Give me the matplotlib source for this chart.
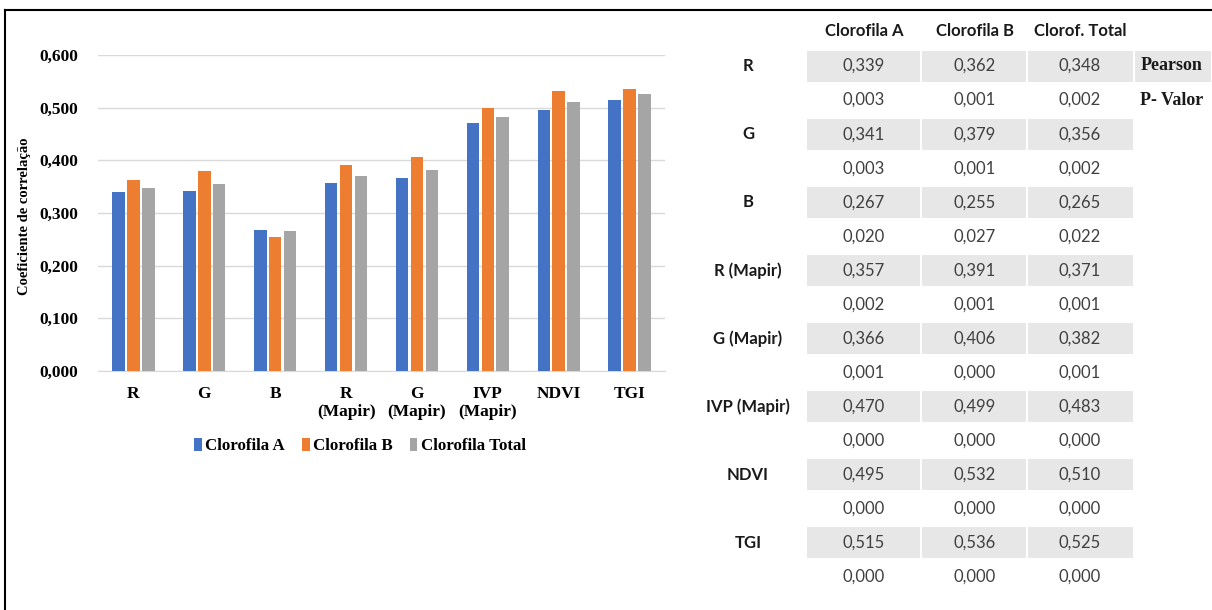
import matplotlib
matplotlib.use("Agg")
import matplotlib.pyplot as plt
import numpy as np
from matplotlib.patches import Rectangle

# Indices and correlation data
categories = ["R", "G", "B", "R\n(Mapir)", "G\n(Mapir)", "IVP\n(Mapir)", "NDVI", "TGI"]
row_labels = ["R", "G", "B", "R (Mapir)", "G (Mapir)", "IVP (Mapir)", "NDVI", "TGI"]
series_names = ["Clorofila A", "Clorofila B", "Clorofila Total"]
table_headers = ["Clorofila A", "Clorofila B", "Clorof. Total"]
pearson_a = [0.339, 0.341, 0.267, 0.357, 0.366, 0.470, 0.495, 0.515]
pearson_b = [0.362, 0.379, 0.255, 0.391, 0.406, 0.499, 0.532, 0.536]
pearson_t = [0.348, 0.356, 0.265, 0.371, 0.382, 0.483, 0.510, 0.525]
pval_a = [0.003, 0.003, 0.020, 0.002, 0.001, 0.000, 0.000, 0.000]
pval_b = [0.001, 0.001, 0.027, 0.001, 0.000, 0.000, 0.000, 0.000]
pval_t = [0.002, 0.002, 0.022, 0.001, 0.001, 0.000, 0.000, 0.000]
y_ticks = [0.0, 0.1, 0.2, 0.3, 0.4, 0.5, 0.6]

COLORS = ["#4472C4", "#ED7D31", "#A5A5A5"]
SERIF = "Liberation Serif"
SANS = "Lato"


def fmt(v):
    return f"{v:.3f}".replace(".", ",")


W, H = 1212, 610
fig = plt.figure(figsize=(W / 100, H / 100), dpi=100)

# Background canvas in pixel units for frame and table
bg = fig.add_axes([0, 0, 1, 1])
bg.set_xlim(0, W)
bg.set_ylim(H, 0)
bg.axis("off")
bg.plot([5, W], [10, 10], color="black", lw=1.5)
bg.plot([5, 5], [10, H], color="black", lw=1.5)

# Bar chart
ax = fig.add_axes([98 / W, 1 - 371 / H, 567 / W, 316 / H])
x = np.arange(len(categories))
width = 0.175
step = 0.21
for i, (vals, name) in enumerate(zip([pearson_a, pearson_b, pearson_t], series_names)):
    ax.bar(x + (i - 1) * step, vals, width=width, color=COLORS[i], label=name, zorder=3)
ax.set_xlim(-0.5, len(categories) - 0.5)
ax.set_ylim(0, 0.6)
ax.set_yticks(y_ticks)
ax.set_yticklabels([fmt(t) for t in y_ticks], fontfamily=SERIF, fontweight="bold", fontsize=12.5)
ax.set_xticks(x)
ax.set_xticklabels(categories, fontfamily=SERIF, fontweight="bold", fontsize=12.5, linespacing=1.15)
ax.tick_params(length=0, pad=11)
ax.tick_params(axis="y", pad=14)
ax.grid(axis="y", color="#D9D9D9", lw=1, zorder=0)
for side in ["top", "right", "left"]:
    ax.spines[side].set_visible(False)
ax.spines["bottom"].set_color("#D9D9D9")
ax.set_ylabel("Coeficiente de correlação", fontfamily=SERIF, fontweight="bold", fontsize=10.5)
ax.yaxis.set_label_coords(-0.118, 0.49)
ax.legend(loc="center", bbox_to_anchor=(0.462, -0.237), ncol=3, frameon=False,
          prop={"family": SERIF, "weight": "bold", "size": 12.2},
          handlelength=0.45, handleheight=0.85, handletextpad=0.2, columnspacing=1.0)

# Correlation table
col_x = [864, 975, 1080]
col_left = [807, 922, 1028]
col_w = [113, 104, 105]
row0 = 66
dy = 34.07
cell_h = 31
for cx, head in zip(col_x, table_headers):
    bg.text(cx, 31, head, ha="center", va="center", fontfamily=SANS, fontweight="bold",
            fontsize=12, color="#1a1a1a")
for r, lab in enumerate(row_labels):
    yp = row0 + 2 * r * dy
    yv = yp + dy
    bg.text(748, yp, lab, ha="center", va="center", fontfamily=SANS, fontweight="bold",
            fontsize=12, color="#1a1a1a")
    for c, (pa, pv) in enumerate(zip([pearson_a, pearson_b, pearson_t], [pval_a, pval_b, pval_t])):
        bg.add_patch(Rectangle((col_left[c], yp - cell_h / 2), col_w[c], cell_h,
                               facecolor="#E7E7E7", edgecolor="none"))
        bg.text(col_x[c], yp, fmt(pa[r]), ha="center", va="center", fontfamily=SANS,
                fontsize=12, color="#404040")
        bg.text(col_x[c], yv, fmt(pv[r]), ha="center", va="center", fontfamily=SANS,
                fontsize=12, color="#404040")

bg.add_patch(Rectangle((1135, row0 - cell_h / 2), 76, cell_h, facecolor="#E7E7E7", edgecolor="none"))
bg.text(1172, row0, "Pearson", ha="center", va="center", fontfamily=SERIF, fontweight="bold",
        fontsize=13, color="#1a1a1a")
bg.text(1172, row0 + dy, "P- Valor", ha="center", va="center", fontfamily=SERIF, fontweight="bold",
        fontsize=13, color="#1a1a1a")

fig.savefig("out.png", dpi=100)
